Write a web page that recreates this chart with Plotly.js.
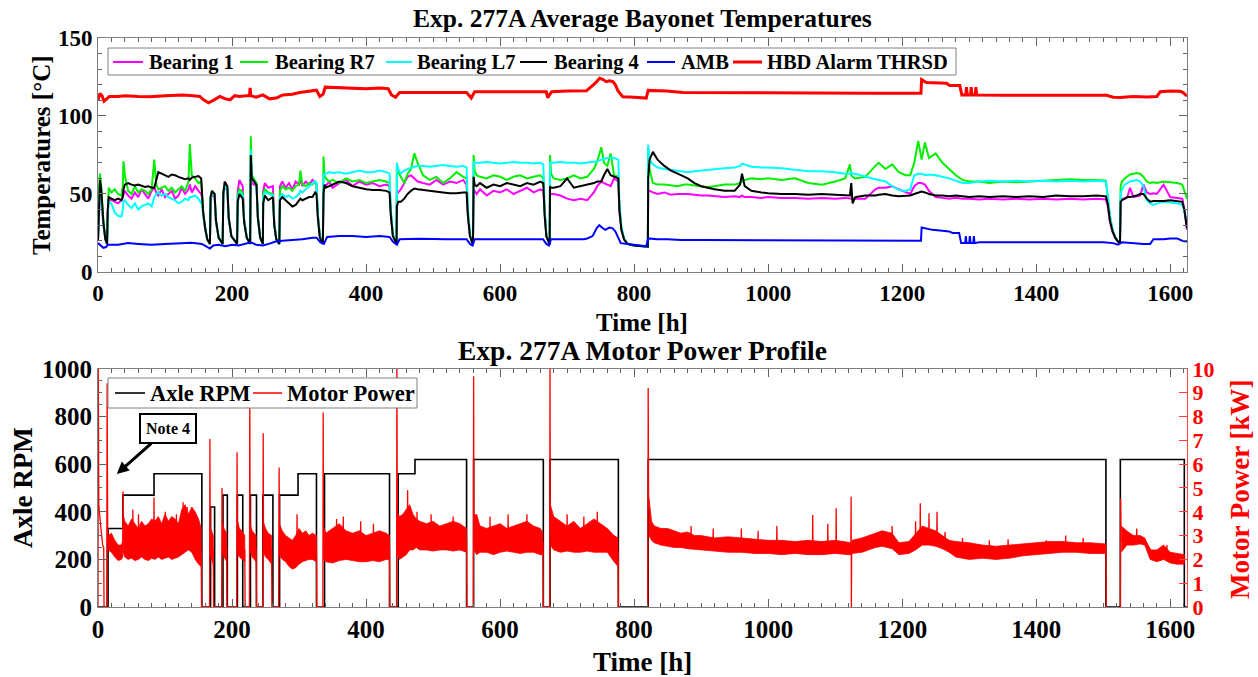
<!DOCTYPE html>
<html><head><meta charset="utf-8">
<script src="https://cdn.plot.ly/plotly-3.0.1.min.js"></script>
<style>html,body{margin:0;padding:0;background:#fff}#chart{width:1258px;height:677px}</style>
</head><body><div id="chart"></div>
<script>
// ---------- Top panel: bearing temperatures ----------
const tempTime = [
  0, 1.5, 3, 5, 8, 11, 13.5,
  14.5, 16, 20, 25, 30, 35, 37,
  38, 40, 45, 50, 55, 60, 65, 70, 75, 80, 84, 87, 90, 95, 100, 105, 110, 115, 120, 125, 130, 135, 137, 140, 145, 150, 154,
  155, 157, 160, 163, 167,
  168, 170, 174, 176, 180, 186,
  187, 189, 193, 195, 199, 207.5,
  208.5, 211, 216, 218, 222, 227,
  228, 229.5, 236.5, 238.5, 242, 246,
  246.5, 249, 254, 261, 263, 266, 270.5,
  271.5, 275, 280, 285, 290, 295, 300, 302, 305, 310, 315, 320, 324, 326,
  328, 331, 335.5,
  336.5, 338, 340, 345, 350, 360, 370, 380, 390, 400, 410, 420, 430, 435,
  437, 440, 445.5,
  446, 448, 452, 457, 462, 467, 472, 477, 485, 495, 505, 515, 525, 535, 545, 550,
  552, 555, 559.5,
  560.5, 562, 565, 570, 580, 590, 600, 610, 620, 630, 640, 650, 660, 664.5,
  666.5, 669, 674,
  674.5, 676, 680, 690, 700, 710, 720, 730, 740, 745, 751, 755, 760, 765, 770, 776.5,
  778, 781, 785, 790, 800, 810, 820.5,
  821, 823, 828, 835, 845, 855, 865, 875,
  880, 890, 900, 910, 920, 935, 950, 958, 961, 965, 975, 990, 1000, 1020, 1040, 1060, 1080, 1100, 1115, 1122,
  1124, 1126, 1130, 1145, 1160, 1165, 1175, 1185, 1195, 1205, 1212, 1218, 1224, 1229, 1234, 1240, 1250, 1260, 1270, 1280,
  1290, 1300, 1315, 1330, 1350, 1370, 1390, 1410, 1430, 1450, 1470, 1490, 1504,
  1507, 1510, 1514, 1518, 1522, 1525,
  1526, 1528, 1532, 1536, 1540, 1545, 1550, 1555, 1560, 1565, 1570, 1575, 1580, 1590, 1600, 1610, 1618, 1621, 1625
];
const bearing1 = [
  20, 45, 54, 47, 30, 21, 18,
  38, 47, 46, 45, 44, 46, 48,
  50, 52, 49, 47, 51, 48, 53, 50, 47, 52, 54, 51, 49, 53, 48, 50, 52, 47, 49, 54, 50, 53, 56, 51, 55, 52, 50,
  48, 37, 27, 21, 18,
  46, 50, 48, 32, 22, 18,
  49, 55, 52, 34, 23, 18,
  52, 59, 55, 34, 22, 18,
  60, 57, 55, 35, 22, 18,
  52, 57, 54, 55, 32, 21, 18,
  55, 58, 54, 57, 53, 58, 56, 59, 55, 58, 56, 59, 57, 56,
  37, 23, 18.5,
  52, 56, 55, 58, 54, 57, 59, 55, 58, 56, 57, 55, 56, 55,
  37, 23, 18,
  52, 51, 53, 57, 61, 62, 60, 58, 57, 56, 59, 56, 58, 57, 59, 56,
  36, 23, 17.5,
  51, 52, 50, 53, 49, 52, 51, 53, 50, 52, 54, 51, 53, 52,
  35, 23, 17.5,
  49.6, 50, 50, 49, 47, 46, 47, 46, 51, 55, 58, 57, 56, 55, 60, 58,
  39, 27, 21, 18, 17, 16.5, 16.3,
  52, 52, 51, 50, 51, 49.5, 50, 50,
  50, 49.5, 49, 49, 48.5, 48, 48.5, 48, 49, 48, 48, 47.5, 48, 47.5, 47.5, 47, 47.5, 47, 47.5, 47,
  47, 47, 47, 47, 53, 54, 54, 55, 53, 51, 50, 55, 57, 57, 56, 52, 48, 47.5, 47, 47.5,
  47, 47, 46.5, 47, 46.5, 47, 46.5, 47, 46.5, 47, 46.5, 47, 46.5,
  42, 32, 25.5, 21.5, 19.5, 18.5,
  46, 47, 47, 48, 54, 48, 48.5, 49, 56, 51, 50, 50.5, 50, 56, 48, 47.5, 47, 40, 27
];
const bearingR7 = [
  20, 55, 63, 54, 33, 21, 18,
  44, 54, 51, 53, 50, 49, 55,
  71, 62, 52, 50, 55, 51, 53, 52, 50, 53, 72, 56, 53, 54, 55, 52, 54, 51, 53, 55, 52, 58, 82, 62, 60, 57, 58,
  52, 38, 28, 21, 18,
  48, 52, 50, 33, 22, 18,
  52, 56, 54, 35, 23, 18,
  50, 53, 51, 33, 22, 18,
  87, 62, 57, 36, 22, 18,
  50, 53, 51, 50, 31, 21, 18,
  52, 55, 53, 54, 52, 55, 56, 65, 56, 55, 57, 56, 58, 57,
  37, 23, 18.5,
  74, 62, 60, 58, 59, 57, 60, 58, 59, 57, 58, 59, 58, 57,
  38, 24, 18,
  69, 64, 61, 57, 63, 66, 76, 70, 62, 59, 61, 57, 60, 64, 61, 60,
  38, 24, 17.5,
  75, 65, 62, 61, 60, 62, 61, 59, 61, 62, 60, 61, 62, 60,
  38, 24, 17.5,
  75, 63, 60, 59, 60, 62, 60, 61, 66, 71, 80, 70, 68, 76, 62, 61,
  42, 28, 21, 18, 17, 16.5, 16.3,
  80, 66, 57, 56, 56, 55.5, 55, 56,
  56, 55.5, 55, 54.5, 55, 56, 56, 57, 58, 59, 60, 59.5, 60, 59, 60, 57, 56, 58, 60, 69,
  62, 61, 60, 61, 68, 70, 66, 69, 64, 62, 62, 70, 84, 72, 83, 73, 76, 70, 66, 62,
  59, 58, 58, 57, 58, 57.5, 58, 58.5, 59, 59.5, 59, 59, 58.5,
  48, 36, 27, 22, 19.5, 18.5,
  55, 58, 60, 61, 62.5, 63, 63.5, 63, 61, 58, 57, 57.5, 57, 58, 57.5, 57, 56, 52, 47
];
const bearingL7 = [
  20, 46, 55, 48, 31, 21, 18,
  36, 45, 44, 38, 36, 35.5, 40,
  45, 46, 43, 41, 44, 40, 42, 43, 44, 42, 48, 50, 51, 49, 50, 48, 47, 46, 44, 45, 47, 46, 48, 48, 49, 47, 44,
  44, 36, 27, 21, 18,
  47, 51, 49, 33, 22, 18,
  50, 55, 53, 35, 23, 18,
  47, 51, 49, 33, 22, 18,
  78, 60, 56, 35, 22, 18,
  48, 51, 50, 49, 31, 21, 18,
  48, 50, 48, 49, 47, 48, 50, 52, 51, 53, 55, 57, 58, 57,
  37, 23, 18.5,
  62, 63, 63, 64, 63.5, 64, 63, 64, 65, 64, 64, 65, 64, 63,
  40, 24, 18,
  70, 66, 63, 65, 66, 67, 67.5, 68, 68, 67.5, 68, 68.5, 68, 67.5, 68, 67,
  40, 24, 17.5,
  71, 70, 70, 70, 70.5, 70, 69.5, 70, 70.5, 70, 70, 69.5, 70, 69,
  40, 24, 17.5,
  70.5, 70, 70, 70.5, 70, 70, 69.5, 70, 70.5, 71, 72, 72.5, 73, 73, 73, 72,
  44, 29, 21.5, 18, 17, 16.5, 16.3,
  81.5, 72, 69, 67, 66, 65.5, 65, 64.5,
  64, 64.5, 65, 65.5, 66, 66.5, 67, 68, 69.5, 69, 67.5, 67, 67, 66.5, 65.5, 64.5, 64.5, 64, 63, 63,
  64, 63, 63, 61, 59.5, 59, 58, 55, 52.5, 52, 53, 62, 63, 63, 62, 62.5, 62, 61, 60, 58.5,
  57, 57, 58, 58.5, 58, 58.5, 58, 58.5, 58, 58.5, 58, 58.5, 58,
  48, 36, 27, 22, 19.5, 18.5,
  50, 53, 56, 57, 58, 58.5, 59, 58, 55, 46, 44, 43, 44, 45, 44.5, 44, 43, 38, 33
];
const bearing4 = [
  20, 50, 59, 52, 32, 21, 18,
  40, 48, 47, 46, 47, 46, 48,
  53, 56, 57, 56, 55.5, 56, 55, 54.5, 55, 54, 54, 59, 64, 63, 62, 61, 62.5, 62, 61, 60, 59.5, 60, 59, 60.5, 61, 61.5, 60,
  52, 38, 28, 21, 18,
  48, 52, 50, 33, 22, 18,
  50, 58, 55, 35, 23, 18,
  45, 50, 47, 32, 22, 18,
  75, 60, 56, 35, 22, 18,
  44, 49, 46, 48, 30, 21, 18,
  46, 48, 46, 44, 42, 43, 46, 47, 46, 47, 48, 48, 51, 50,
  35, 22, 18,
  50, 56, 54, 55, 56, 58, 57, 55, 54, 53, 52.5, 52.5, 52, 51,
  36, 23, 18,
  42, 45, 45, 47, 50, 52, 53.5, 53, 52.5, 52, 51.5, 51, 50.5, 50.5, 51, 51,
  36, 23, 17.5,
  61, 56, 55, 57, 54, 56, 55, 57, 56, 55, 57, 56, 58, 57,
  36, 23, 17.5,
  55, 54, 54, 55, 60, 54, 55, 56, 57, 58, 58, 62, 66, 62, 61, 60,
  40, 27, 21, 18, 17, 16.5, 16.3,
  60, 72, 77, 72, 68, 65, 63, 61,
  60, 57, 55, 54, 53, 52, 52, 56, 63, 55, 52, 51, 50.5, 50, 50, 49.5, 50, 49.5, 49, 49,
  57, 44, 48, 49, 49, 49.5, 50, 49, 48.5, 49, 49, 50, 51, 51.5, 51, 50, 49, 49, 48.5, 49,
  48.5, 48, 48.5, 48, 48.5, 48, 48.5, 48, 49, 48.5, 48.5, 49, 48.5,
  43, 33, 26, 22, 19.5, 18.5,
  45, 46, 47, 48, 48, 48.5, 49, 50, 50, 47, 45, 45.5, 45.5, 45.5, 46, 45.5, 45, 40, 28
];
const ambTime = [0, 3, 8, 12, 15, 30, 45, 60, 80, 100, 120, 140, 155, 162, 167, 172, 180, 190, 200, 210,
  220, 228, 236, 246, 255, 265, 275, 290, 305, 320, 326, 332, 337, 342, 360, 380, 400, 420, 435, 440,
  446, 450, 480, 520, 550, 555, 559, 562, 600, 640, 664, 669, 673, 676, 700, 725, 730, 738, 744, 748,
  752, 757, 763, 768, 772, 776, 780, 790, 800, 810, 818, 821, 835, 850, 870, 900, 1000, 1100, 1200, 1228,
  1229, 1235, 1245, 1260, 1270, 1275, 1285, 1288, 1294, 1295, 1296, 1300, 1301, 1302, 1306, 1307, 1308, 1315, 1400, 1500,
  1515, 1522, 1528, 1540, 1560, 1570, 1575, 1590, 1600, 1610, 1618, 1625];
const ambTemp = [18.5, 17.5, 15.5, 16, 17.5, 17.5, 18.5, 18, 17.5, 18, 18.3, 18.8, 18, 16, 15, 17, 17.5, 16.5, 17.5, 17,
  18, 19, 17.5, 17, 18, 19.5, 20, 20.5, 21, 22, 22, 19, 18, 22.5, 23, 23, 22.5, 23, 22.5, 19.5,
  17.5, 21, 21.3, 21, 21, 18, 17, 21, 21, 21, 21, 18, 17, 21, 21, 21, 21.5, 23, 28, 30,
  28.5, 27, 28.5, 28, 26, 22, 18.5, 18, 17.5, 17, 16.5, 21.5, 21, 21, 20.5, 20.5, 20.3, 20.2, 20, 20,
  28.5, 28, 27, 26.5, 26, 25, 25, 18.5, 18.5, 23, 18.5, 18.5, 23, 18.5, 18.5, 23, 18.5, 19, 19, 19,
  18.5, 17.5, 19, 18.5, 18, 18, 21, 21, 21.5, 21.5, 20, 19.5];
const hbdTime = [0, 3, 6, 9, 13, 17, 30, 40, 60, 77, 100, 127, 142, 152, 157, 165, 172, 182, 190, 197,
  204, 211, 221, 226, 227, 228, 236, 246, 256, 266, 276, 290, 301, 315, 326, 331, 336, 339, 360, 380,
  400, 420, 433, 438, 444, 450, 480, 520, 550, 557, 562, 600, 640, 669, 671, 677, 700, 729, 734, 742,
  748.6, 753, 758.5, 763, 768.5, 772, 776, 783, 800, 818, 821, 848, 873, 950, 1050, 1150, 1228, 1229, 1236, 1250,
  1266, 1271, 1286, 1289, 1295, 1296, 1297, 1302, 1303, 1304, 1309, 1310, 1311, 1350, 1400, 1450, 1505, 1515, 1525, 1545,
  1565, 1580, 1585, 1600, 1615, 1619, 1625];
const hbdTemp = [110, 114.5, 113, 109.5, 111, 112.5, 112.5, 113, 112.5, 112.3, 113, 113.5, 113, 112.5, 110.5, 108.5, 110, 112.5, 111, 110.3,
  113, 112.5, 113, 113, 118, 113, 112, 113.5, 111, 111.5, 113.5, 114, 115, 116, 116.5, 112.5, 114, 118.5, 118, 118,
  117.5, 118, 117.5, 113.5, 112, 115, 115, 115, 115, 111.5, 115.5, 115.6, 115.6, 115.5, 111.8, 115.6, 116, 116.2, 118, 121,
  124.2, 123.5, 122, 122.5, 122, 120, 116, 112.3, 112, 111.5, 116.4, 116, 115, 114.8, 114.7, 114.6, 114.6, 123.3, 121.5, 121.3,
  121, 119.5, 119.5, 113.5, 113.5, 118.5, 113.5, 113.5, 118.5, 113.5, 113.5, 118.5, 113.5, 113.3, 113.3, 113.2, 113.3, 112, 111.8, 112.5,
  112.2, 112.5, 115.5, 116, 115.8, 115, 112.8];

// ---------- Bottom panel: axle RPM and motor power ----------
const rpmTime = [0, 15, 37, 83.6, 155, 168, 174, 186.5, 193, 208, 216, 227.5, 236.5, 246, 261, 271, 298.5, 326, 338, 435,
  448, 473, 550, 560.5, 664.5, 674.5, 776.5, 821, 1504, 1525.5, 1621, 1625];
const rpmValue = [0, 330, 470, 560, 0, 420, 0, 470, 0, 470, 0, 470, 0, 470, 0, 470, 560, 0, 560, 0,
  560, 620, 0, 620, 0, 620, 0, 620, 0, 620, 0, 0];

const powerTime = [
  0, 0.4, 1.2, 4, 7, 8.5, 9, 13, 13.6, 14.5, 20, 25, 30, 36.8, 37.3, 37.8, 45, 51.6, 52, 52.4,
  60, 60.4, 60.8, 70, 83.2, 83.6, 84, 95, 100.1, 100.5, 100.9, 110, 116.6, 117, 117.4, 126.6, 127, 127.4, 132.6, 133,
  133.4, 140, 148, 154, 154.5,
  166.5, 167, 167.5, 172, 172.5,
  184.5, 185, 185.5, 192, 192.5,
  207, 207.5, 208, 219, 219.5,
  226, 226.5, 227, 236, 236.5,
  246, 246.5, 247, 259, 259.5,
  269.5, 270.3, 270.8, 280, 290, 296.6, 297, 297.4, 310, 320, 326, 326.5,
  335.5, 336, 336.6, 345, 355.6, 356, 356.4, 365.6, 366, 366.4, 380, 391.6, 392, 392.4, 400, 410.6, 411, 411.4, 420, 435, 435.5,
  445.5, 446, 446.6, 455, 461.6, 462, 462.4, 470, 475.6, 476, 476.4, 480, 496.6, 497, 497.4, 500, 520, 529.6, 530, 530.4, 540, 550, 550.5,
  560, 560.5, 561, 562.6, 563, 563.4, 570, 584.6, 585, 585.4, 590, 611.6, 612, 612.4, 620, 639.6, 640, 640.4, 650, 664, 664.5,
  674, 674.5, 675, 690, 699.6, 700, 700.4, 710, 724.6, 725, 725.4, 730, 744.6, 745, 745.4, 750, 765, 776, 776.5, 777,
  820.5, 821, 821.6, 826, 840, 860, 884.6, 885, 885.4, 900, 917.6, 918, 918.4, 950, 959.6, 960, 960.4, 984.6, 985, 985.4,
  1000, 1012.6, 1013, 1013.4, 1040, 1066.1, 1066.5, 1066.9, 1080, 1088.6, 1089, 1089.4, 1101.1, 1101.5, 1101.9, 1115, 1123.4, 1123.8, 1124.2, 1124.6,
  1140, 1170, 1184.6, 1185, 1185.4, 1195, 1210, 1219.6, 1220, 1220.4, 1226.6, 1227, 1227.4, 1239.6, 1240, 1240.4, 1251.6, 1252, 1252.4, 1263.6,
  1264, 1264.4, 1280, 1289.6, 1290, 1290.4, 1320, 1329.6, 1330, 1330.4, 1357.6, 1358, 1358.4, 1400, 1414.6, 1415, 1415.4, 1443.6, 1444, 1444.4,
  1469.6, 1470, 1470.4, 1480, 1504, 1504.5, 1505,
  1525.5, 1526, 1526.6, 1545, 1549.6, 1550, 1550.4, 1562, 1575, 1590, 1594.6, 1595, 1595.4, 1605, 1621
];
const powerKW = [
  0, 10, 4.3, 3.4, 2.6, 2.5, 0, 0, 9.4, 2.7, 2.7, 2.5, 2.3, 2.3, 4.85, 2.9, 2.7, 2.75, 4.1, 2.8,
  2.7, 3.9, 2.8, 2.75, 2.8, 4.6, 2.8, 2.9, 2.9, 4.0, 2.9, 2.8, 2.85, 3.9, 2.9, 2.9, 4.4, 2.9, 3.0, 4.2,
  3.0, 3.2, 3.0, 2.2, 0,
  0, 7.06, 2.7, 2.4, 0,
  0, 5.0, 2.8, 2.5, 0,
  0, 6.5, 2.8, 2.4, 0,
  0, 9.34, 2.8, 2.4, 0,
  0, 7.3, 2.8, 2.4, 0,
  0, 5.86, 2.8, 2.5, 2.3, 2.4, 3.9, 2.5, 2.6, 2.6, 2.5, 0,
  0, 8.17, 2.7, 2.5, 2.5, 3.7, 2.5, 2.5, 3.8, 2.5, 2.5, 2.5, 3.6, 2.5, 2.4, 2.5, 3.5, 2.5, 2.5, 2.5, 0,
  0, 10.5, 3.3, 3.1, 3.1, 4.9, 3.2, 3.0, 3.0, 4.0, 3.0, 3.0, 3.0, 3.9, 3.0, 3.0, 2.9, 2.9, 3.8, 2.9, 2.9, 2.8, 0,
  0, 9.69, 3.0, 3.0, 3.9, 2.9, 2.9, 2.85, 3.8, 2.85, 2.85, 2.9, 3.9, 2.9, 2.9, 2.9, 3.9, 2.9, 2.9, 2.7, 0,
  0, 10.5, 3.2, 3.0, 2.9, 3.9, 2.9, 2.9, 2.9, 3.8, 2.9, 2.9, 2.9, 4.0, 2.9, 2.9, 2.8, 2.3, 0, null,
  0, 9.2, 4.5, 3.2, 2.95, 2.85, 2.75, 3.4, 2.7, 2.7, 2.65, 3.3, 2.65, 2.6, 2.6, 3.3, 2.6, 2.55, 3.2, 2.55,
  2.55, 2.55, 3.4, 2.55, 2.5, 2.5, 3.87, 2.5, 2.5, 2.5, 3.5, 2.5, 2.5, 4.15, 2.5, 2.45, 2.5, 4.63, 0, 2.5,
  2.6, 2.85, 2.8, 3.4, 2.6, 2.45, 2.5, 2.6, 3.6, 2.8, 2.8, 4.36, 2.9, 2.9, 3.94, 2.9, 2.9, 4.0, 2.85, 2.8,
  3.16, 2.7, 2.45, 2.45, 2.9, 2.45, 2.3, 2.3, 2.8, 2.3, 2.3, 2.85, 2.3, 2.45, 2.45, 2.8, 2.45, 2.5, 3.0, 2.5,
  2.5, 2.9, 2.5, 2.5, 2.45, 0, null,
  0, 4.56, 2.8, 2.85, 2.85, 3.3, 2.85, 2.8, 2.2, 2.3, 2.2, 2.6, 2.2, 2.1, 2.0
];
// noise envelope of the power signal (segments separated by null)
const bandTime = [
  15, 20, 25, 30, 35, 37, null,
  37.5, 40, 45, 50, 55, 60, 65, 70, 75, 80, 85, 90, 95, 100, 105, 110, 115, 120, 125, 130, 135, 140, 145, 150, 154, null,
  167, 169.5, 172, null,
  185, 188, 192, null,
  207.5, 211, 215, 219, null,
  226.5, 230, 233, 236, null,
  246.5, 250, 254, 259, null,
  270.5, 275, 280, 285, 290, 295, 300, 305, 310, 315, 320, 326, null,
  336, 340, 350, 360, 370, 380, 390, 400, 410, 420, 430, 435, null,
  446, 450, 455, 460, 465, 470, 475, 480, 490, 500, 510, 520, 530, 540, 550, null,
  561, 565, 570, 580, 590, 600, 610, 620, 630, 640, 650, 660, 664, null,
  675, 680, 690, 700, 710, 720, 730, 740, 750, 760, 770, 776, null,
  822, 826, 830, 840, 850, 860, 870, 880, 890, 900, 920, 940, 960, 980, 1000, 1020, 1040, 1060, 1080, 1100, 1120, 1124, null,
  1125, 1140, 1160, 1170, 1185, 1195, 1210, 1220, 1230, 1240, 1250, 1260, 1270, 1280, 1300, 1320, 1340, 1360, 1380, 1400, 1420, 1440, 1460, 1480, 1504, null,
  1527, 1535, 1545, 1555, 1562, 1570, 1580, 1590, 1600, 1610, 1621
];
const bandHigh = [
  3.0, 3.1, 2.8, 2.6, 2.6, 2.8, null,
  3.9, 3.6, 3.4, 3.7, 3.5, 3.3, 3.6, 3.4, 3.5, 3.7, 3.6, 3.8, 3.5, 3.9, 3.6, 3.8, 3.7, 3.5, 4.1, 4.3, 3.9, 4.2, 4.0, 3.7, 3.3, null,
  3.4, 3.2, 3.0, null,
  3.6, 3.3, 3.1, null,
  3.7, 3.3, 3.2, 3.0, null,
  3.5, 3.2, 3.1, 3.0, null,
  3.6, 3.3, 3.1, 3.0, null,
  3.5, 3.2, 3.0, 2.9, 2.8, 3.0, 3.3, 3.1, 3.2, 3.0, 3.1, 3.0, null,
  3.4, 3.1, 3.3, 3.5, 3.2, 3.1, 3.2, 3.0, 3.1, 3.2, 3.1, 3.0, null,
  4.0, 3.8, 3.9, 4.1, 4.3, 3.9, 3.7, 3.6, 3.5, 3.6, 3.4, 3.5, 3.6, 3.5, 3.3, null,
  3.6, 3.9, 3.4, 3.3, 3.4, 3.5, 3.3, 3.4, 3.5, 3.6, 3.4, 3.3, 3.1, null,
  4.3, 3.8, 3.6, 3.4, 3.6, 3.3, 3.5, 3.7, 3.5, 3.3, 3.0, 2.9, null,
  4.6, 3.6, 3.4, 3.3, 3.3, 3.2, 3.1, 3.15, 3.0, 3.0, 2.9, 2.95, 2.9, 2.85, 2.8, 2.8, 2.75, 2.8, 2.75, 2.8, 2.7, 2.7, null,
  2.8, 2.9, 3.1, 3.2, 3.1, 2.7, 2.75, 3.1, 3.4, 3.3, 3.2, 3.0, 2.8, 2.75, 2.7, 2.6, 2.55, 2.6, 2.65, 2.7, 2.75, 2.75, 2.7, 2.7, 2.65, null,
  3.4, 3.2, 3.0, 3.0, 2.9, 2.4, 2.4, 2.6, 2.3, 2.25, 2.2
];
const bandLow = [
  2.4, 2.3, 2.1, 1.95, 2.0, 2.1, null,
  2.3, 2.1, 2.0, 2.05, 1.95, 2.0, 2.1, 2.0, 1.95, 2.05, 2.0, 2.1, 2.0, 2.05, 2.1, 2.0, 2.05, 2.1, 2.2, 2.3, 2.4, 2.3, 2.0, 1.8, 1.7, null,
  2.2, 2.0, 1.8, null,
  2.3, 2.1, 1.9, null,
  2.3, 2.1, 2.0, 1.9, null,
  2.4, 2.1, 2.0, 1.9, null,
  2.3, 2.1, 2.0, 1.8, null,
  2.2, 2.0, 1.9, 1.7, 1.6, 1.65, 1.8, 1.9, 1.95, 2.0, 2.0, 1.9, null,
  2.0, 1.9, 1.85, 1.95, 2.0, 1.95, 1.9, 1.9, 1.95, 1.9, 2.0, 2.0, null,
  2.2, 2.0, 2.1, 2.2, 2.4, 2.4, 2.5, 2.4, 2.4, 2.35, 2.4, 2.4, 2.35, 2.4, 2.3, null,
  2.4, 2.2, 2.3, 2.3, 2.2, 2.3, 2.35, 2.3, 2.25, 2.3, 2.3, 2.2, 2.2, null,
  2.6, 2.4, 2.3, 2.35, 2.3, 2.3, 2.35, 2.3, 2.3, 2.3, 1.9, 1.7, null,
  3.0, 2.8, 2.7, 2.6, 2.55, 2.5, 2.5, 2.45, 2.4, 2.4, 2.35, 2.3, 2.3, 2.25, 2.25, 2.2, 2.25, 2.2, 2.2, 2.25, 2.2, 2.2, null,
  2.25, 2.3, 2.5, 2.55, 2.45, 2.2, 2.25, 2.4, 2.6, 2.6, 2.55, 2.45, 2.3, 2.1, 2.0, 2.05, 2.0, 2.05, 2.15, 2.2, 2.25, 2.3, 2.3, 2.25, 2.25, null,
  2.3, 2.6, 2.6, 2.65, 2.6, 2.0, 1.9, 2.0, 1.85, 1.8, 1.8
];

// closed polygons (one per band segment) for the filled noise band
function bandPolygon(t, hi, lo) {
  const xs = [], ys = [];
  let seg = [];
  const flush = () => {
    if (!seg.length) return;
    seg.forEach(i => { xs.push(t[i]); ys.push(hi[i]); });
    for (let k = seg.length - 1; k >= 0; k--) { xs.push(t[seg[k]]); ys.push(lo[seg[k]]); }
    xs.push(null); ys.push(null);
    seg = [];
  };
  for (let i = 0; i < t.length; i++) { if (t[i] === null) flush(); else seg.push(i); }
  flush();
  return { xs, ys };
}
const band = bandPolygon(bandTime, bandHigh, bandLow);

const FONT = 'Liberation Serif, Times New Roman, serif';
const f = (size, color) => ({ family: FONT, size: size, color: color || '#000', weight: 'bold' });

const COLORS = { b1: '#ff00ff', r7: '#00f000', l7: '#00ffff', b4: '#000000', amb: '#0000ff', hbd: '#ff0000', rpm: '#000000', pw: '#ff0000' };

const traces = [
  { x: tempTime, y: bearing1, name: 'Bearing 1', mode: 'lines', line: { color: COLORS.b1, width: 2 }, xaxis: 'x', yaxis: 'y' },
  { x: tempTime, y: bearingR7, name: 'Bearing R7', mode: 'lines', line: { color: COLORS.r7, width: 2 }, xaxis: 'x', yaxis: 'y' },
  { x: tempTime, y: bearingL7, name: 'Bearing L7', mode: 'lines', line: { color: COLORS.l7, width: 2 }, xaxis: 'x', yaxis: 'y' },
  { x: tempTime, y: bearing4, name: 'Bearing 4', mode: 'lines', line: { color: COLORS.b4, width: 2 }, xaxis: 'x', yaxis: 'y' },
  { x: ambTime, y: ambTemp, name: 'AMB', mode: 'lines', line: { color: COLORS.amb, width: 2 }, xaxis: 'x', yaxis: 'y' },
  { x: hbdTime, y: hbdTemp, name: 'HBD Alarm THRSD', mode: 'lines', line: { color: COLORS.hbd, width: 3 }, xaxis: 'x', yaxis: 'y' },
  { x: rpmTime, y: rpmValue, name: 'Axle RPM', mode: 'lines', line: { color: COLORS.rpm, width: 1.6, shape: 'hv' }, xaxis: 'x2', yaxis: 'y2' },
  { x: band.xs, y: band.ys, mode: 'lines', fill: 'toself', fillcolor: '#ff0000', line: { color: '#ff0000', width: 0.8 }, xaxis: 'x2', yaxis: 'y3', hoverinfo: 'skip' },
  { x: powerTime, y: powerKW, name: 'Motor Power', mode: 'lines', line: { color: COLORS.pw, width: 1.3 }, xaxis: 'x2', yaxis: 'y3' }
];

const axisBase = {
  showline: true, linecolor: '#808080', linewidth: 1, mirror: 'ticks',
  ticks: 'inside', ticklen: 8, tickwidth: 1, tickcolor: '#606060',
  showgrid: false, zeroline: false
};
const topDom = [0.5888, 1], botDom = [0, 0.4183];
const px = v => (v - 98) / 1089, py = v => (607 - v) / 569;

// legend boxes drawn as paper shapes + text (positions in pixels)
const legendTop = { box: [108, 48, 956, 75], textY: 62, size: 20.5, items: [
  ['Bearing 1', COLORS.b1, 2, 113, 143, 147], ['Bearing R7', COLORS.r7, 2, 240, 268, 273],
  ['Bearing L7', COLORS.l7, 2, 386, 412, 415], ['Bearing 4', COLORS.b4, 2, 520, 547, 552],
  ['AMB', COLORS.amb, 2, 647, 675, 679], ['HBD Alarm THRSD', COLORS.hbd, 3, 733, 762, 765]] };
const legendBot = { box: [108, 378, 417, 408], textY: 393, size: 22.5, items: [
  ['Axle RPM', COLORS.rpm, 1.6, 115, 145, 148], ['Motor Power', COLORS.pw, 1.5, 253, 282, 285]] };

const shapes = [], annotations = [];
[legendTop, legendBot].forEach(L => {
  shapes.push({ type: 'rect', xref: 'paper', yref: 'paper', x0: px(L.box[0]), x1: px(L.box[2]), y0: py(L.box[3]), y1: py(L.box[1]),
    line: { color: '#808080', width: 1 }, fillcolor: '#ffffff', layer: 'above' });
  L.items.forEach(it => {
    shapes.push({ type: 'line', xref: 'paper', yref: 'paper', x0: px(it[3]), x1: px(it[4]), y0: py(L.textY), y1: py(L.textY),
      line: { color: it[1], width: it[2] }, layer: 'above' });
    annotations.push({ text: it[0], xref: 'paper', yref: 'paper', x: px(it[5]), y: py(L.textY), xanchor: 'left', yanchor: 'middle',
      showarrow: false, font: f(L.size) });
  });
});

annotations.push(
  { text: 'Exp. 277A Average Bayonet Temperatures', xref: 'paper', yref: 'paper', x: 0.5, y: py(19), xanchor: 'center', yanchor: 'middle', showarrow: false, font: f(25.5) },
  { text: 'Exp. 277A Motor Power Profile', xref: 'paper', yref: 'paper', x: 0.5, y: py(350), xanchor: 'center', yanchor: 'middle', showarrow: false, font: f(27.5) },
  { text: 'Time [h]', xref: 'paper', yref: 'paper', x: px(642), y: py(322), xanchor: 'center', yanchor: 'middle', showarrow: false, font: f(25) },
  { text: 'Time [h]', xref: 'paper', yref: 'paper', x: px(642), y: py(662), xanchor: 'center', yanchor: 'middle', showarrow: false, font: f(27) },
  { text: 'Temperatures [°C]', xref: 'paper', yref: 'paper', x: px(42), y: py(155), xanchor: 'center', yanchor: 'middle', textangle: -90, showarrow: false, font: f(25) },
  { text: 'Axle RPM', xref: 'paper', yref: 'paper', x: px(23), y: py(488), xanchor: 'center', yanchor: 'middle', textangle: -90, showarrow: false, font: f(27) },
  { text: 'Motor Power [kW]', xref: 'paper', yref: 'paper', x: px(1240), y: py(490), xanchor: 'center', yanchor: 'middle', textangle: -90, showarrow: false, font: f(27, '#ff0000') },
  { text: 'Note 4', xref: 'x2', yref: 'y2', x: 28, y: 559, ax: 51, ay: -45, showarrow: true, arrowhead: 2, arrowsize: 0.8, arrowwidth: 3, arrowcolor: '#000',
    bgcolor: '#fff', bordercolor: '#000', borderwidth: 2, borderpad: 5, font: f(16) }
);

const layout = {
  width: 1258, height: 677,
  margin: { l: 98, r: 71, t: 38, b: 70 },
  paper_bgcolor: '#fff', plot_bgcolor: '#fff',
  showlegend: false,
  xaxis: Object.assign({}, axisBase, { domain: [0, 1], anchor: 'y', range: [0, 1625], tick0: 0, dtick: 200,
    minor: { dtick: 20, ticks: 'inside', ticklen: 4, tickcolor: '#606060' }, tickfont: f(23) }),
  yaxis: Object.assign({}, axisBase, { domain: topDom, anchor: 'x', range: [0, 150], tick0: 0, dtick: 50,
    minor: { dtick: 10, ticks: 'inside', ticklen: 4, tickcolor: '#606060' }, tickfont: f(23) }),
  xaxis2: Object.assign({}, axisBase, { domain: [0, 1], anchor: 'y2', range: [0, 1625], tick0: 0, dtick: 200,
    minor: { dtick: 20, ticks: 'inside', ticklen: 4, tickcolor: '#606060' }, tickfont: f(25) }),
  yaxis2: Object.assign({}, axisBase, { domain: botDom, anchor: 'x2', range: [0, 1000], tick0: 0, dtick: 200, mirror: false,
    minor: { dtick: 50, ticks: 'inside', ticklen: 4, tickcolor: '#606060' }, tickfont: f(25) }),
  yaxis3: { overlaying: 'y2', side: 'right', anchor: 'x2', range: [0, 10], tick0: 0, dtick: 1,
    showline: true, linecolor: '#ff4040', linewidth: 1, ticks: 'inside', ticklen: 8, tickcolor: '#ff4040',
    showgrid: false, zeroline: false, tickfont: f(22, '#ff0000') },
  shapes: shapes,
  annotations: annotations
};

Plotly.newPlot('chart', traces, layout, { displayModeBar: false, staticPlot: true });
</script>
</body></html>
